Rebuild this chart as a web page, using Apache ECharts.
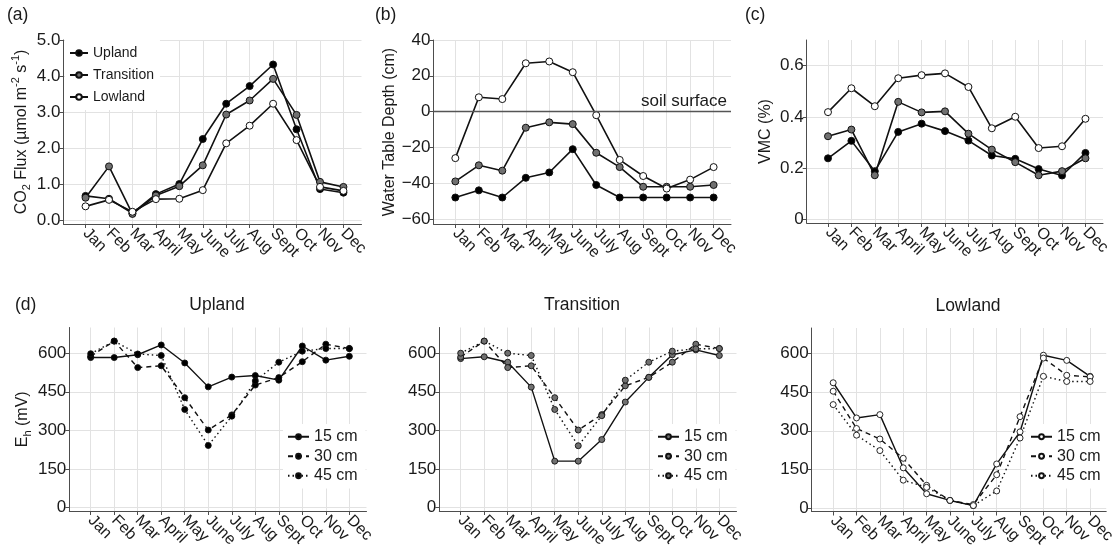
<!DOCTYPE html>
<html>
<head>
<meta charset="utf-8">
<script src="https://cdn.jsdelivr.net/npm/echarts@6/dist/echarts.min.js"></script>
<style>
html,body{margin:0;padding:0;background:#fff;}
#chart{width:1118px;height:559px;}
</style>
</head>
<body>
<div id="chart"></div>
<script>
// ---------- data ----------
const months = ['Jan','Feb','Mar','April','May','June','July','Aug','Sept','Oct','Nov','Dec'];

const co2Upland     = [0.67,0.59,0.19,0.72,1.00,2.25,3.23,3.72,4.32,2.52,0.86,0.76];
const co2Transition = [0.62,1.49,0.17,0.68,0.94,1.52,2.93,3.32,3.92,2.92,1.06,0.92];
const co2Lowland    = [0.38,0.56,0.23,0.58,0.59,0.83,2.13,2.62,3.23,2.22,0.92,0.81];

const wtdUpland     = [-48,-44,-48,-37,-34,-21,-41,-48,-48,-48,-48,-48];
const wtdTransition = [-39,-30,-33,-9,-6,-7,-23,-31,-42,-42,-42,-41];
const wtdLowland    = [-26,8,7,27,28,22,-2,-27,-36,-43,-38,-31];

const vmcUpland     = [0.239,0.307,0.189,0.342,0.374,0.345,0.308,0.250,0.237,0.197,0.172,0.260];
const vmcTransition = [0.325,0.351,0.173,0.459,0.418,0.422,0.335,0.273,0.224,0.173,0.189,0.239];
const vmcLowland    = [0.419,0.512,0.442,0.551,0.563,0.570,0.517,0.356,0.401,0.279,0.286,0.393];

const ehUpland15 = [583,583,594,632,562,469,507,513,495,628,573,588];
const ehUpland30 = [588,647,544,551,427,301,360,476,505,567,635,618];
const ehUpland45 = [598,647,597,591,381,241,355,492,565,608,618,618];

const ehTransition15 = [579,586,565,468,180,180,264,410,506,594,613,591];
const ehTransition30 = [585,647,544,551,427,301,361,473,506,565,635,618];
const ehTransition45 = [600,647,600,591,381,240,357,495,565,608,617,618];

const ehLowland15 = [487,350,363,156,55,29,9,171,296,594,574,512];
const ehLowland30 = [454,309,268,193,88,29,13,129,355,583,516,510];
const ehLowland45 = [402,283,223,108,80,29,9,66,272,512,492,492];

const siteNames  = ['Upland','Transition','Lowland'];
const depthNames = ['15 cm','30 cm','45 cm'];

const co2Ticks = [0,1,2,3,4,5];
const wtdTicks = [-60,-40,-20,0,20,40];
const vmcTicks = [0,0.2,0.4,0.6];
const ehTicks  = [0,150,300,450,600];

// ---------- styling ----------
const FONT = '"Liberation Sans", Arial, Helvetica, sans-serif';
const TXT = '#1a1a1a';
const AX = '#4d4d4d';
const GRIDC = '#e2e2e2';
const LINEC = '#111';
const fills = {Upland:'#000000', Transition:'#707070', Lowland:'#ffffff'};
const monthIdx = months.map((m,i)=>i);

const panels = [
  {grid:{left:63.5, top:40, width:298, height:184}, xmin:-0.94, xmax:11.77, ymin:-0.11, ymax:5.0,
   ticks:co2Ticks, fmt:v=>v.toFixed(1),
   name:'{n|CO}{sub|2}{n| Flux (\u00b5mol m}{sup|-2}{n| s}{sup|-1}{n|)}', nameGap:31},
  {grid:{left:433.5, top:40, width:297.5, height:184}, xmin:-0.93, xmax:11.74, ymin:-62.8, ymax:40,
   ticks:wtdTicks, fmt:v=>(v<0?'\u2212'+(-v):String(v)),
   name:'{n|Water Table Depth (cm)}', nameGap:31},
  {grid:{left:806.7, top:40, width:296.3, height:183}, xmin:-0.91, xmax:11.75, ymin:-0.013, ymax:0.70,
   ticks:vmcTicks, fmt:v=>(v===0?'0':v.toFixed(1)),
   name:'{n|VMC (%)}', nameGap:30},
  {grid:{left:69.3, top:327.5, width:297.2, height:183.5}, xmin:-0.91, xmax:11.73, ymin:-14, ymax:700,
   ticks:ehTicks, fmt:v=>String(v),
   name:'{n|E}{sub|h}{n| (mV)}', nameGap:36},
  {grid:{left:439.3, top:327.5, width:297.2, height:183.5}, xmin:-0.91, xmax:11.73, ymin:-14, ymax:700,
   ticks:ehTicks, fmt:v=>String(v), name:'', nameGap:36},
  {grid:{left:811.7, top:328, width:296.3, height:183.5}, xmin:-0.92, xmax:11.69, ymin:-14, ymax:700,
   ticks:ehTicks, fmt:v=>String(v), name:'', nameGap:36}
];

const richName = {
  n:{fontSize:16, fontFamily:FONT, color:TXT, lineHeight:22},
  sub:{fontSize:11, fontFamily:FONT, color:TXT, verticalAlign:'bottom', lineHeight:11},
  sup:{fontSize:11, fontFamily:FONT, color:TXT, verticalAlign:'top', lineHeight:11}
};

const grids = [], xAxes = [], yAxes = [], series = [];
panels.forEach((p,i)=>{
  grids.push(Object.assign({containLabel:false}, p.grid));
  xAxes.push({
    type:'value', gridIndex:i, min:p.xmin, max:p.xmax,
    axisLine:{show:true, onZero:false, lineStyle:{color:AX, width:1}},
    axisTick:{show:true, length:4, customValues:monthIdx, lineStyle:{color:AX, width:1}},
    axisLabel:{customValues:monthIdx, rotate:-45, margin:7, fontSize:16, fontFamily:FONT, color:TXT,
               formatter:v=>months[Math.round(v)]},
    splitLine:{show:true, lineStyle:{color:GRIDC, width:1}}
  });
  yAxes.push({
    type:'value', gridIndex:i, min:p.ymin, max:p.ymax,
    axisLine:{show:true, onZero:false, lineStyle:{color:AX, width:1}},
    axisTick:{show:true, length:4, customValues:p.ticks, lineStyle:{color:AX, width:1}},
    axisLabel:{customValues:p.ticks, margin:3, fontSize:17, fontFamily:FONT, color:TXT, formatter:p.fmt},
    splitLine:{show:true, lineStyle:{color:GRIDC, width:1}},
    name:p.name, nameLocation:'middle', nameRotate:90, nameGap:p.nameGap,
    nameTextStyle:{rich:richName, fontSize:16, fontFamily:FONT, color:TXT}
  });
});

function toPairs(arr){ return arr.map((v,i)=>[i,v]); }

function siteSeries(panel, site, vals, extra){
  return Object.assign({
    type:'line', name:site, xAxisIndex:panel, yAxisIndex:panel,
    data:toPairs(vals), symbol:'circle', symbolSize:7, showSymbol:true,
    itemStyle:{color:fills[site], borderColor:LINEC, borderWidth:1},
    lineStyle:{color:LINEC, width:1.6}, animation:false, silent:true
  }, extra||{});
}

// panels a-c
[[co2Upland,co2Transition,co2Lowland],[wtdUpland,wtdTransition,wtdLowland],[vmcUpland,vmcTransition,vmcLowland]]
  .forEach((set,pi)=>{
    set.forEach((vals,si)=>{
      const extra = {};
      if (pi===1 && si===0){
        extra.markLine = {
          silent:true, symbol:'none', animation:false,
          lineStyle:{color:'#555', type:'solid', width:1.4},
          label:{show:true, position:'insideEndTop', formatter:'soil surface', fontSize:17,
                 fontFamily:FONT, color:TXT, distance:[4,2]},
          data:[{yAxis:0}]
        };
      }
      series.push(siteSeries(pi, siteNames[si], vals, extra));
    });
  });

// panel d
const ehSets = [
  ['Upland',[ehUpland15,ehUpland30,ehUpland45]],
  ['Transition',[ehTransition15,ehTransition30,ehTransition45]],
  ['Lowland',[ehLowland15,ehLowland30,ehLowland45]]
];
const lineTypes = ['solid',[5,4],[1.5,3]];
ehSets.forEach(([site,sets],k)=>{
  sets.forEach((vals,di)=>{
    series.push({
      type:'line', name:depthNames[di]+'#'+site, xAxisIndex:3+k, yAxisIndex:3+k,
      data:toPairs(vals), symbol:'circle', symbolSize:6, showSymbol:true,
      itemStyle:{color:fills[site], borderColor:LINEC, borderWidth:0.9},
      lineStyle:{color:LINEC, width:1.4, type:lineTypes[di]}, animation:false, silent:true
    });
  });
});

const legendBase = {orient:'vertical', backgroundColor:'#ffffff', selectedMode:false, itemGap:0};
const legends = [
  Object.assign({}, legendBase, {
    data:siteNames, left:65, top:40, padding:[2,6,2,4], itemWidth:18, itemHeight:7,
    textStyle:{fontSize:14, fontFamily:FONT, color:TXT, lineHeight:22}
  })
];
const dLegendLeft = [283, 653, 1026];
['Upland','Transition','Lowland'].forEach((site,k)=>{
  legends.push(Object.assign({}, legendBase, {
    data:depthNames.map(d=>d+'#'+site), left:dLegendLeft[k], top:424,
    padding:[3,8,3,4], itemWidth:21, itemHeight:6,
    formatter:n=>n.split('#')[0],
    textStyle:{fontSize:16, fontFamily:FONT, color:TXT, lineHeight:19.5}
  }));
});

function label(text, x, y, align){
  return {type:'text', x:x, y:y, silent:true,
    style:{text:text, fill:TXT, fontSize:17.5, fontFamily:FONT, align:align||'left', verticalAlign:'middle'}};
}

const option = {
  animation:false,
  backgroundColor:'#ffffff',
  grid:grids, xAxis:xAxes, yAxis:yAxes, series:series, legend:legends,
  graphic:[
    label('(a)', 7, 15), label('(b)', 375, 15), label('(c)', 745, 15), label('(d)', 15, 305),
    label('Upland', 217, 305, 'center'), label('Transition', 582, 305, 'center'), label('Lowland', 968, 306, 'center')
  ]
};

const chart = echarts.init(document.getElementById('chart'), null, {renderer:'canvas'});
chart.setOption(option);
</script>
</body>
</html>
